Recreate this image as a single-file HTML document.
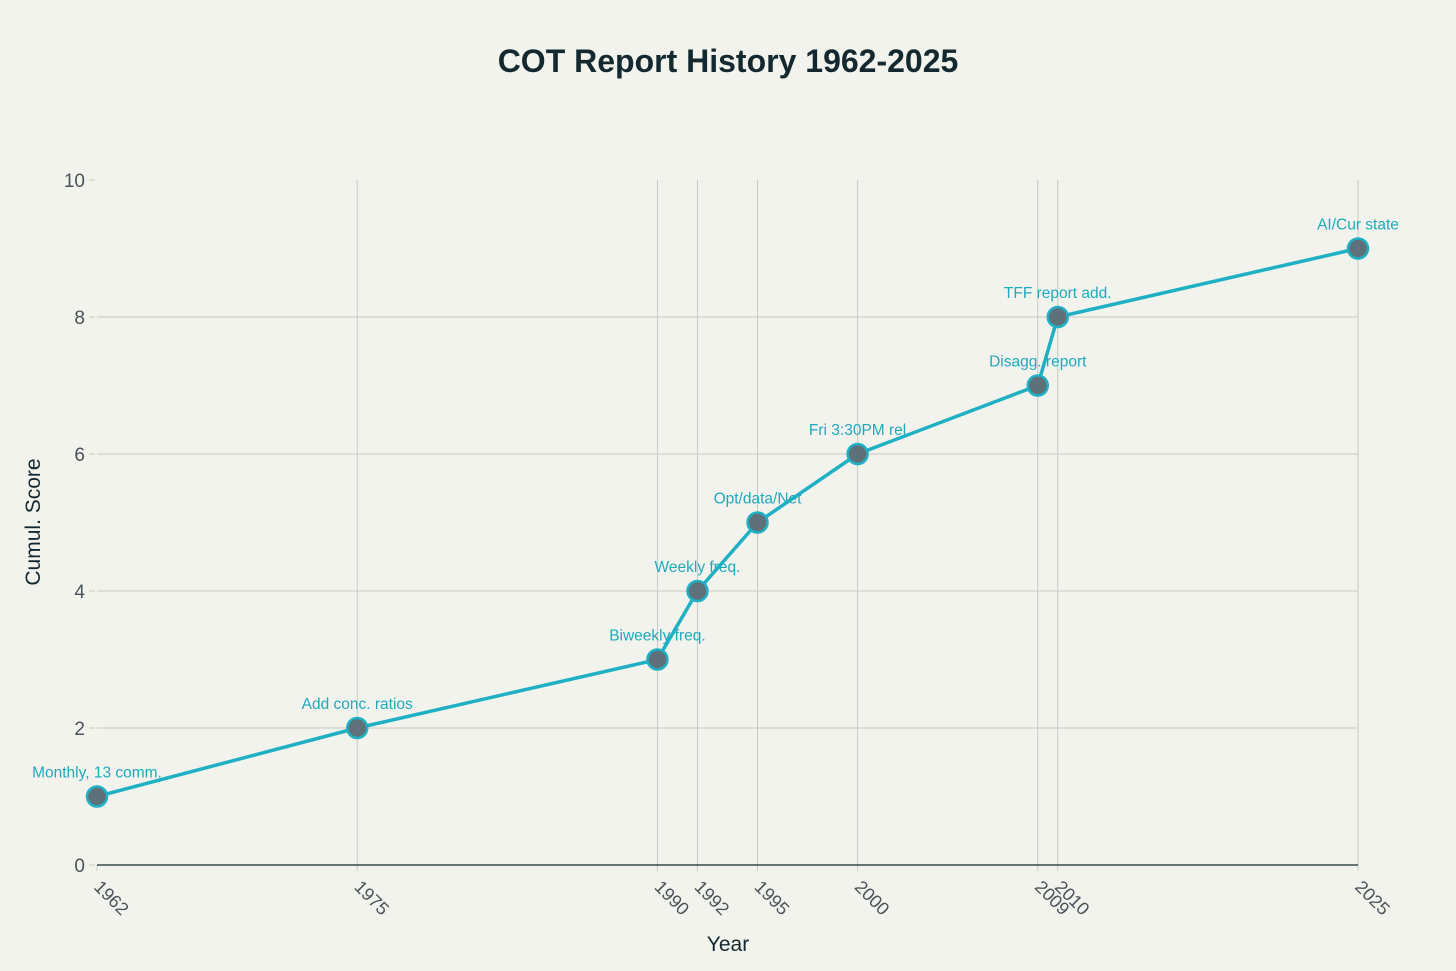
<!DOCTYPE html>
<html><head><meta charset="utf-8"><style>
html,body{margin:0;padding:0;background:#f3f3ee;}
svg{display:block;font-family:"Liberation Sans",sans-serif;}
</style></head><body>
<svg id="chart" width="1456" height="971" viewBox="0 0 1456 971">
<rect width="1456" height="971" fill="#f3f3ee"/>
<text x="728" y="72" text-anchor="middle" font-size="32" font-weight="bold" fill="#13282f">COT Report History 1962-2025</text>
<g id="grid"></g>
<g id="axes"></g>
<g id="series"></g>
<text x="728" y="951" text-anchor="middle" font-size="21" fill="#13282f">Year</text>
<text transform="translate(40,522) rotate(-90)" text-anchor="middle" font-size="21" fill="#13282f">Cumul. Score</text>
</svg>
<script>
const years = [1962, 1975, 1990, 1992, 1995, 2000, 2009, 2010, 2025];
const scores = [1, 2, 3, 4, 5, 6, 7, 8, 9];
const labels = ["Monthly, 13 comm.", "Add conc. ratios", "Biweekly freq.", "Weekly freq.", "Opt/data/Net", "Fri 3:30PM rel", "Disagg. report", "TFF report add.", "AI/Cur state"];
const yTicks = [0, 2, 4, 6, 8, 10];

const NS = "http://www.w3.org/2000/svg";
const xS = v => 97 + (v - 1962) * (1358 - 97) / (2025 - 1962);
const yS = v => 865 - v * 68.5;
function mk(tag, attrs, parent, text) {
  const e = document.createElementNS(NS, tag);
  for (const k in attrs) e.setAttribute(k, attrs[k]);
  if (text !== undefined) e.textContent = text;
  parent.appendChild(e);
  return e;
}
const grid = document.getElementById('grid'), axes = document.getElementById('axes'), series = document.getElementById('series');

yTicks.forEach(t => {
  if (t > 0 && t < 10) {
    const g = mk('line', {x1: 97, x2: 1358, y1: yS(t), y2: yS(t), stroke: '#c9c9c4', 'stroke-width': 1}, grid);
    
    
  }
  const tk = mk('line', {x1: 89, x2: 95, y1: yS(t), y2: yS(t), stroke: '#c9c9c4', 'stroke-width': 1}, axes);
  
  
  const l = mk('text', {x: 85, y: yS(t) + 7, 'text-anchor': 'end', 'font-size': 19, fill: '#4a5358'}, axes, String(t));
  
  
});
years.forEach(yr => {
  const x = xS(yr);
  if (yr !== 1962) {
    const g = mk('line', {x1: x, x2: x, y1: yS(10), y2: 865, stroke: '#c9c9c4', 'stroke-width': 1}, grid);
    
    
  }
  const tk = mk('line', {x1: x, x2: x, y1: 865, y2: 871, stroke: '#c9c9c4', 'stroke-width': 1}, axes);
  
  
  const l = mk('text', {transform: `translate(${x - 4},${888}) rotate(45)`, 'font-size': 18, fill: '#4a5358'}, axes, String(yr));
  
  
});
const ax = mk('line', {x1: 97, x2: 1358, y1: 865, y2: 865, stroke: '#13282f', 'stroke-width': 1.2}, axes);



const pl = mk('polyline', {points: years.map((y, i) => xS(y) + ',' + yS(scores[i])).join(' '), fill: 'none', stroke: '#1fb0c4', 'stroke-width': 3.5, 'stroke-linejoin': 'round'}, series);


years.forEach((yr, i) => {
  const c = mk('circle', {cx: xS(yr), cy: yS(scores[i]), r: 10, fill: '#5e717a', stroke: '#1fb0c4', 'stroke-width': 2.5}, series);
  
  
  const t = mk('text', {x: xS(yr), y: yS(scores[i]) - 19, 'text-anchor': 'middle', 'font-size': 15.5, fill: '#1fa9bc'}, series, labels[i]);
  
  
});
</script>
</body></html>
